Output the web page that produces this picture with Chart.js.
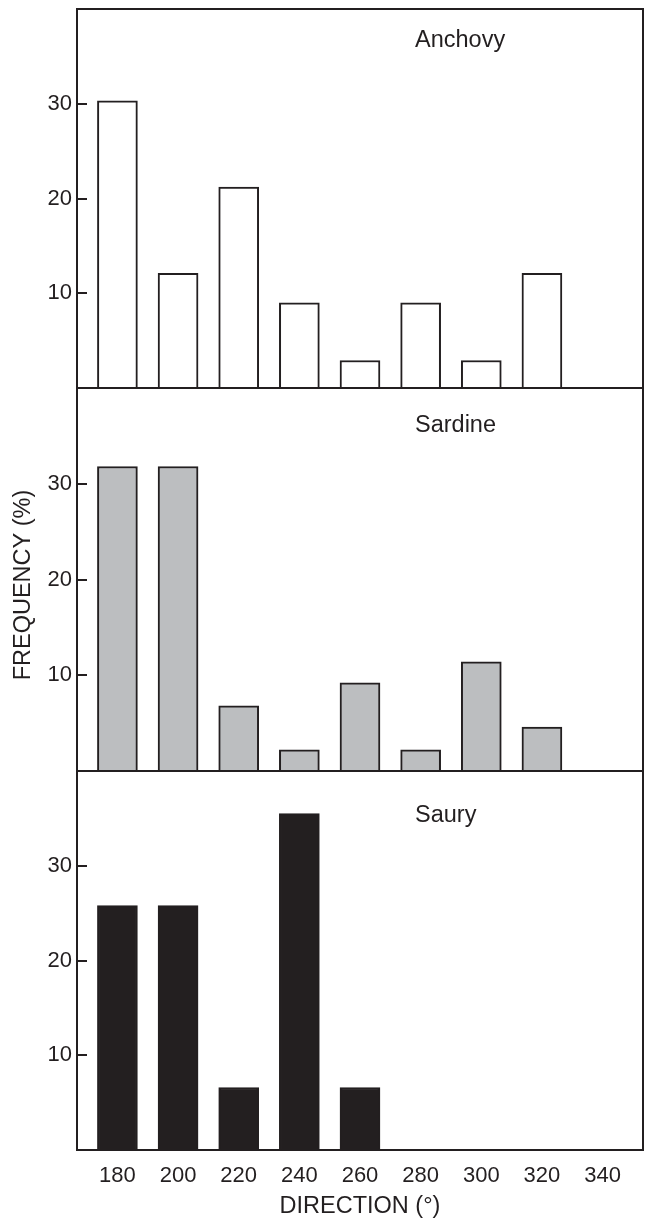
<!DOCTYPE html>
<html>
<head>
<meta charset="utf-8" />
<title>Frequency by direction</title>
<script src="https://cdn.jsdelivr.net/npm/chart.js"></script>
<style>
    body { margin: 0; padding: 0; background: #fff; }
    #wrap { position: relative; width: 649px; height: 1221px; }
    #wrap canvas { position: absolute; left: 0; top: 0; }
</style>
</head>
<body>
<div id="wrap">
    <canvas id="anchovy" width="649" height="1221"></canvas>
    <canvas id="sardine" width="649" height="1221"></canvas>
    <canvas id="saury" width="649" height="1221"></canvas>
</div>
<script>
    // values (%)
    var directions = [180, 200, 220, 240, 260, 280, 300, 320, 340];
    var anchovy = [30.3, 12.1, 21.2, 9.0, 2.9, 9.0, 2.9, 12.1, 0];
    var sardine = [31.8, 31.8, 6.8, 2.2, 9.2, 2.2, 11.4, 4.6, 0];
    var saury = [25.8, 25.8, 6.6, 35.5, 6.6, 0, 0, 0, 0];
    var yTicks = [10, 20, 30];

    var ink = '#231f20';
    var fontFamily = '"Liberation Sans", Arial, sans-serif';
    Chart.defaults.font.family = fontFamily;
    Chart.defaults.color = ink;

    // box round each panel, inward tick marks, species name (and the shared y title)
    var frame = {
        id: 'frame',
        afterDatasetsDraw: function(chart, args, opts) {
            var a = chart.chartArea, ctx = chart.ctx, y = chart.scales.y;
            ctx.save();
            ctx.strokeStyle = ink;
            ctx.lineWidth = 2;
            ctx.strokeRect(a.left, a.top, a.right - a.left, a.bottom - a.top);
            ctx.beginPath();
            y.ticks.forEach(function(t) {
                var py = Math.round(y.getPixelForValue(t.value));
                ctx.moveTo(a.left, py);
                ctx.lineTo(a.left + 10, py);
            });
            ctx.stroke();
            ctx.fillStyle = ink;
            ctx.font = '23.5px ' + fontFamily;
            ctx.textAlign = 'left';
            ctx.textBaseline = 'alphabetic';
            ctx.fillText(opts.label, 415, a.top + opts.labelY);
            if (opts.yTitle) {
                ctx.translate(24, 585);
                ctx.rotate(-Math.PI / 2);
                ctx.textAlign = 'center';
                ctx.textBaseline = 'middle';
                ctx.fillText(opts.yTitle, 0, 0);
            }
            ctx.restore();
        }
    };

    function makePanel(id, values, fill, label, labelY, top, bottom, last) {
        new Chart(document.getElementById(id), {
            type: 'bar',
            data: {
                datasets: [{
                    data: directions.map(function(d, i) { return { x: d, y: values[i] }; }),
                    backgroundColor: fill,
                    borderColor: ink,
                    borderWidth: 2,
                    barThickness: 40
                }]
            },
            options: {
                responsive: false,
                animation: false,
                layout: { padding: { top: top, bottom: last ? 0 : 1221 - bottom, left: 0, right: 6 } },
                plugins: {
                    legend: { display: false },
                    tooltip: { enabled: false },
                    frame: { label: label, labelY: labelY, yTitle: id === 'sardine' ? 'FREQUENCY (%)' : null }
                },
                scales: {
                    x: {
                        type: 'linear',
                        offset: false,
                        min: 166.67,
                        max: 353.33,
                        display: last,
                        afterBuildTicks: function(s) { s.ticks = directions.map(function(v) { return { value: v }; }); },
                        afterFit: function(s) { if (last) s.height = 1221 - bottom; },
                        grid: { display: false, drawTicks: false },
                        border: { display: false },
                        ticks: { padding: 13, maxRotation: 0, font: { size: 22 }, color: ink },
                        title: { display: last, text: 'DIRECTION (°)', font: { size: 23.5 }, color: ink, padding: { top: 0, bottom: 0 } }
                    },
                    y: {
                        min: 0,
                        max: 40,
                        afterBuildTicks: function(s) { s.ticks = yTicks.map(function(v) { return { value: v }; }); },
                        afterFit: function(s) { s.width = 77; s.paddingTop = 0; s.paddingBottom = 0; },
                        grid: { display: false, drawTicks: false },
                        border: { display: false },
                        ticks: { padding: 5, font: { size: 22 }, color: ink }
                    }
                }
            },
            plugins: [frame]
        });
    }

    makePanel('anchovy', anchovy, '#ffffff', 'Anchovy', 38, 9, 388, false);
    makePanel('sardine', sardine, '#bcbec0', 'Sardine', 44, 388, 771, false);
    makePanel('saury', saury, ink, 'Saury', 51, 771, 1150, true);
</script>
</body>
</html>
